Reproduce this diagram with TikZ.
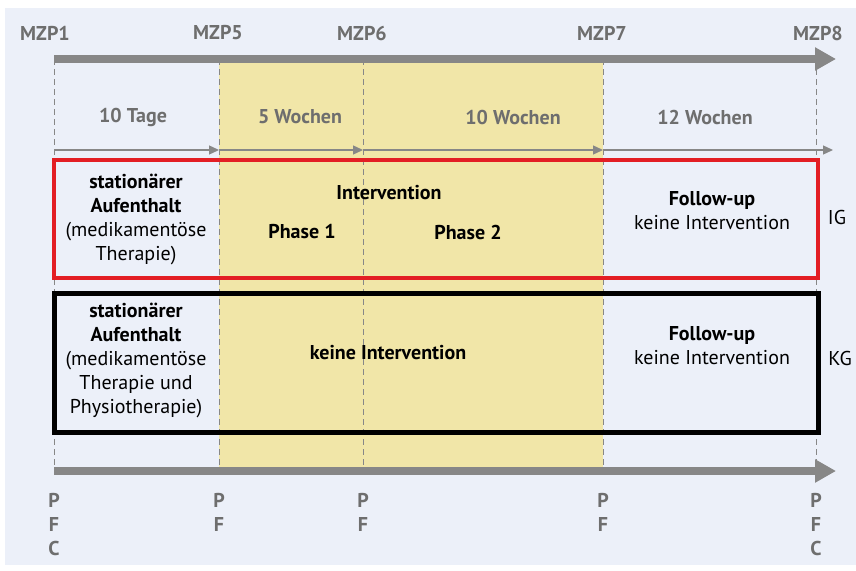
\documentclass[tikz,border=0pt]{standalone}
\usepackage{fontspec}
\setmainfont{PT Sans}
\usetikzlibrary{arrows.meta,positioning}

\definecolor{panelblue}{RGB}{236,240,249}
\definecolor{phaseyellow}{RGB}{241,230,168}
\definecolor{axisgray}{RGB}{135,135,135}
\definecolor{labelgray}{RGB}{110,110,110}
\definecolor{igred}{RGB}{227,30,36}

\begin{document}
\begin{tikzpicture}[x=1pt, y=-1pt,
    axis/.style={line width=8pt, draw=axisgray,
                 -{Triangle[length=21pt, width=22pt]}},
    span/.style={line width=1.3pt, draw=axisgray,
                 -{Triangle[length=10pt, width=9pt]}},
    guide/.style={draw=axisgray, line width=1pt, dash pattern=on 6pt off 4pt},
    groupbox/.style={rectangle, minimum width=764pt, inner sep=0pt},
    txt/.style={font=\fontsize{20}{24}\selectfont, align=center, inner sep=0pt},
    mzp/.style={txt, font=\fontsize{20}{24}\selectfont\bfseries, text=labelgray},
    side/.style={txt, text=black}
]
    % panel and margins
    \useasboundingbox (0,0) rectangle (856,570);
    \fill[panelblue] (5,8) rectangle (856,565);
    \fill[phaseyellow] (219,59) rectangle (603,467);

    % measuring points on the time axis
    \coordinate (m1) at (54,59);
    \coordinate (m5) at (219,59);
    \coordinate (m6) at (363,59);
    \coordinate (m7) at (603,59);
    \coordinate (m8) at (816,59);
    \coordinate (end) at (836,59);

    \node[mzp] (l1) at (45,33)  {MZP1};
    \node[mzp] (l5) at (218,33) {MZP5};
    \node[mzp] (l6) at (362,33) {MZP6};
    \node[mzp] (l7) at (602,33) {MZP7};
    \node[mzp] (l8) at (818,33) {MZP8};

    % dashed guides
    \foreach \m in {m1,m5,m6,m7,m8}
        \draw[guide] (\m) -- ([yshift=-408pt]\m);

    \draw[axis] (m1) -- (end);
    \coordinate (b1) at (54,471);
    \coordinate (bend) at (836,471);
    \draw[axis] (b1) -- (bend);

    % durations
    \node[mzp] (d1) at (133,117) {10 Tage};
    \node[mzp] (d2) at (300,117) {5 Wochen};
    \node[mzp] (d3) at (513,117) {10 Wochen};
    \node[mzp] (d4) at (705,117) {12 Wochen};

    \coordinate (s1) at (54,150);
    \coordinate (s5) at (219,150);
    \coordinate (s6) at (363,150);
    \coordinate (s7) at (603,150);
    \coordinate (s8) at (833,150);
    \draw[span] (s1) -- (s5);
    \draw[span] (s5) -- (s6);
    \draw[span] (s6) -- (s7);
    \draw[span] (s7) -- (s8);

    % intervention group
    \node[groupbox, draw=igred, line width=4.5pt, minimum height=118pt]
        (ig) at (436,219) {};
    \node[side] (stay1) at (136,219)
        {\textbf{stationärer}\\\textbf{Aufenthalt}\\(medikamentöse\\Therapie)};
    \node[side] (int1) at (389,193) {\textbf{Intervention}};
    \node[side] (ph1)  at (302,232) {\textbf{Phase 1}};
    \node[side] (ph2)  at (468,232) {\textbf{Phase 2}};
    \node[side] (fu1)  at (712,211) {\textbf{Follow-up}\\keine Intervention};
    \node[side] (igl)  at (837,217) {IG};

    % control group
    \node[groupbox, draw=black, line width=5pt, minimum height=139pt]
        (kg) at (436,362.5) {};
    \node[side] (stay2) at (136,360)
        {\textbf{stationärer}\\\textbf{Aufenthalt}\\(medikamentöse\\Therapie und\\Physiotherapie)};
    \node[side] (none) at (388,353) {\textbf{keine Intervention}};
    \node[side] (fu2)  at (712,346) {\textbf{Follow-up}\\keine Intervention};
    \node[side] (kgl)  at (840,358) {KG};

    % questionnaires
    \node[mzp, anchor=north] (q1) at (54,493)  {P\\F\\C};
    \node[mzp, anchor=north] (q5) at (219,493) {P\\F};
    \node[mzp, anchor=north] (q6) at (363,493) {P\\F};
    \node[mzp, anchor=north] (q7) at (603,493) {P\\F};
    \node[mzp, anchor=north] (q8) at (816,493) {P\\F\\C};
\end{tikzpicture}
\end{document}
